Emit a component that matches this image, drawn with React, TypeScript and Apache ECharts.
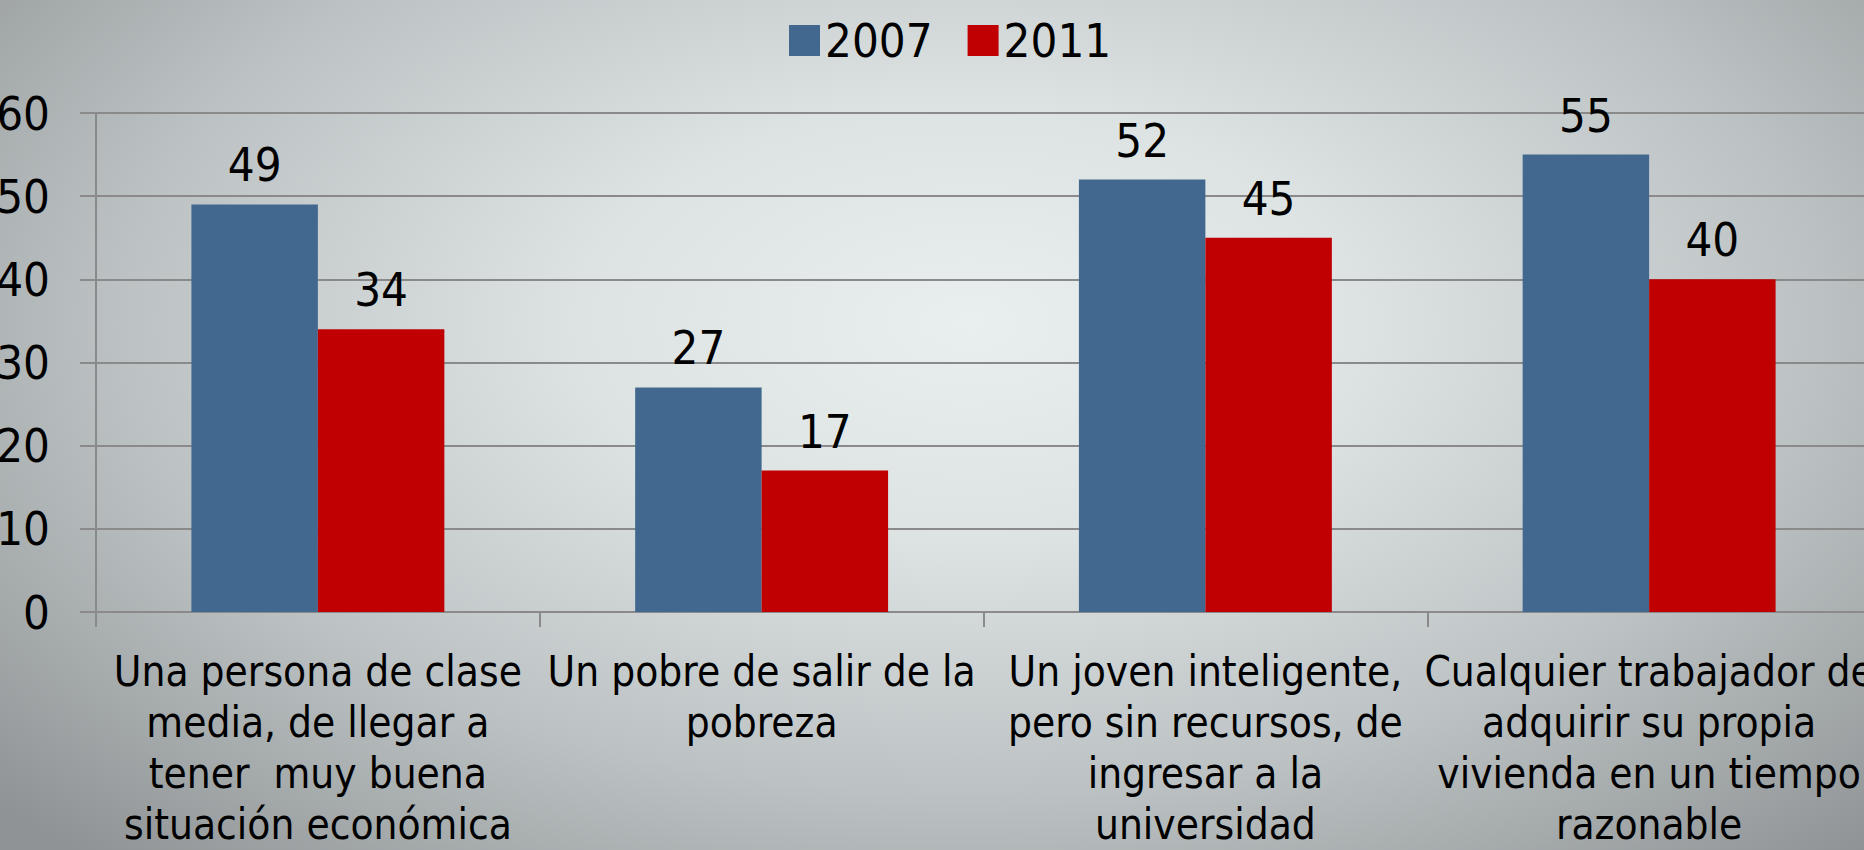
import React, { useEffect, useRef } from "react";
import * as echarts from "echarts";

const categories = [
  "Una persona de clase\nmedia, de llegar a\ntener  muy buena\nsituación económica",
  "Un pobre de salir de la\npobreza",
  "Un joven inteligente,\npero sin recursos, de\ningresar a la\nuniversidad",
  "Cualquier trabajador de\nadquirir su propia\nvivienda en un tiempo\nrazonable",
];
const seriesNames = ["2007", "2011"];
const values2007 = [49, 27, 52, 55];
const values2011 = [34, 17, 45, 40];
const yTicks = { min: 0, max: 60, interval: 10 };

const FONT = "'DejaVu Sans Condensed', 'DejaVu Sans', sans-serif";

export default function App() {
  const ref = useRef<HTMLDivElement>(null);
  useEffect(() => {
    if (!ref.current) return;
    const chart = echarts.init(ref.current, null, { renderer: "svg" });
    const labelStyle = {
      show: true,
      position: "top" as const,
      distance: 16,
      color: "#000",
      fontSize: 47,
      fontFamily: FONT,
    };
    chart.setOption({
      animation: false,
      backgroundColor: "transparent",
      textStyle: { fontFamily: FONT },
      legend: {
        left: 784,
        top: 12,
        itemWidth: 31,
        itemHeight: 31,
        itemGap: 35,
        icon: "rect",
        textStyle: { fontSize: 47, color: "#000", fontFamily: FONT, padding: [0, 0, 0, 0] },
        data: seriesNames,
      },
      grid: {
        left: 96,
        top: 113,
        height: 499,
        width: 1775,
        containLabel: false,
        outerBoundsMode: "none",
      },
      xAxis: {
        type: "category",
        data: categories,
        axisLine: { show: true, lineStyle: { color: "#8a8a8a", width: 2 } },
        axisTick: { show: true, length: 15, lineStyle: { color: "#8a8a8a", width: 2 } },
        axisLabel: {
          interval: 0,
          margin: 34,
          color: "#000",
          fontSize: 42,
          lineHeight: 51,
          fontFamily: FONT,
          hideOverlap: false,
        },
      },
      yAxis: {
        type: "value",
        min: yTicks.min,
        max: yTicks.max,
        interval: yTicks.interval,
        axisLine: { show: true, lineStyle: { color: "#8a8a8a", width: 2 } },
        axisTick: { show: true, length: 16, lineStyle: { color: "#8a8a8a", width: 2 } },
        splitLine: { show: true, lineStyle: { color: "#8a8a8a", width: 2 } },
        axisLabel: { margin: 46, color: "#000", fontSize: 47, fontFamily: FONT },
      },
      series: [
        {
          name: seriesNames[0],
          type: "bar",
          data: values2007,
          barGap: "0%",
          barCategoryGap: "43%",
          itemStyle: { color: "#42688f" },
          label: labelStyle,
        },
        {
          name: seriesNames[1],
          type: "bar",
          data: values2011,
          itemStyle: { color: "#c00000" },
          label: labelStyle,
        },
      ],
    });
    return () => chart.dispose();
  }, []);
  return (
    <div
      style={{
        position: "absolute",
        left: 0,
        top: 0,
        width: 1864,
        height: 850,
        overflow: "hidden",
        background:
          "radial-gradient(ellipse 70% 85% at 52% 38%, #e9eeee 0%, #dde3e3 30%, #bcc2c3 65%, #8f9395 100%)",
      }}
    >
      <div ref={ref} style={{ width: 1864, height: 850 }} />
    </div>
  );
}
